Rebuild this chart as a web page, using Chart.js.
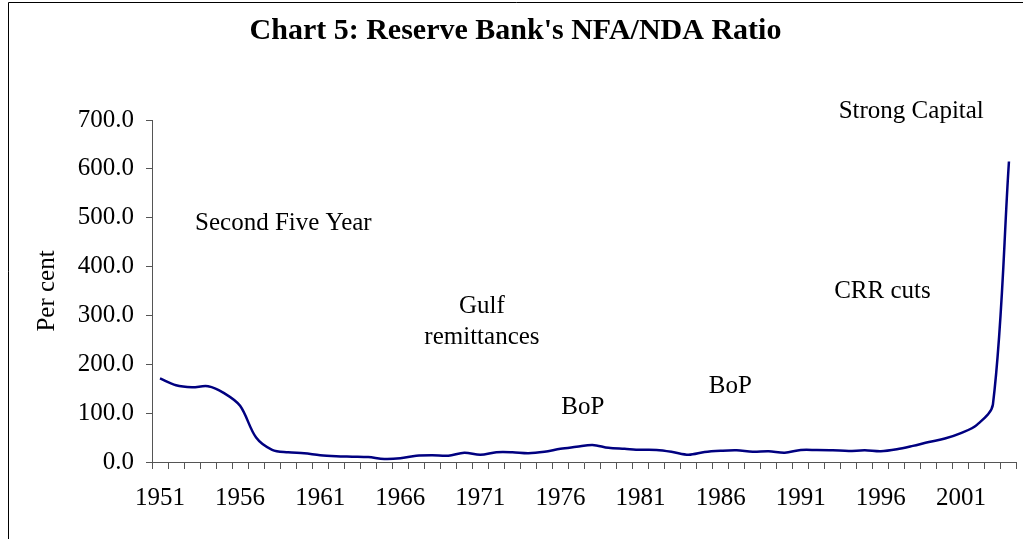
<!DOCTYPE html>
<html>
<head>
<meta charset="utf-8">
<script src="https://cdn.jsdelivr.net/npm/chart.js@4/dist/chart.umd.min.js"></script>
<style>
  html, body { margin: 0; padding: 0; background: #fff; }
  #wrap { width: 1023px; height: 539px; position: relative; }
</style>
</head>
<body>
<div id="wrap"><canvas id="c" width="1023" height="539"></canvas></div>
<script>
const years = [];
for (let y = 1951; y <= 2004; y++) years.push(String(y));

const nfaNdaRatio = [
  171, 157, 153, 155, 141, 115, 50, 25, 20, 18,
  14, 12, 11, 10, 6, 7.5, 13, 14, 13, 19,
  15, 20, 20, 18, 21, 27, 31, 35, 29, 27,
  25, 24.5, 20.5, 15, 20.5, 23, 24, 21, 22, 19,
  24.5, 24.5, 24, 22.5, 24, 22, 26, 33, 41, 48,
  59, 76, 118, 615
];

const yTicks = [0, 100, 200, 300, 400, 500, 600, 700];
const xLabelYears = ['1951','1956','1961','1966','1971','1976','1981','1986','1991','1996','2001'];

const annotationTexts = ['Strong Capital', 'Second Five Year', 'Gulf', 'remittances', 'BoP', 'BoP', 'CRR cuts'];
const annotationAt = [46.9, 7.7, 20.1, 20.1, 26.4, 35.6, 45.1];
const annotationVal = [718, 489, 319, 254, 112.6, 155.5, 350];

const SERIF = '"Liberation Serif", "Times New Roman", serif';

const decor = {
  id: 'decor',
  beforeDraw(chart) {
    const ctx = chart.ctx;
    ctx.save();
    ctx.fillStyle = '#fff';
    ctx.fillRect(0, 0, chart.width, chart.height);
    ctx.strokeStyle = '#000';
    ctx.lineWidth = 1;
    ctx.beginPath();
    ctx.moveTo(8.5, chart.height + 2);
    ctx.lineTo(8.5, 2.5);
    ctx.lineTo(chart.width + 2, 2.5);
    ctx.stroke();
    ctx.restore();
  },
  afterDraw(chart) {
    const ctx = chart.ctx;
    const xs = chart.scales.x, ys = chart.scales.y;
    const area = chart.chartArea;
    ctx.save();
    ctx.fillStyle = '#000';
    ctx.textAlign = 'center';
    ctx.textBaseline = 'middle';
    ctx.font = 'bold 30px ' + SERIF;
    ctx.fillText("Chart 5: Reserve Bank's NFA/NDA Ratio", chart.width / 2 + 4, 31);
    ctx.font = '25px ' + SERIF;
    for (let i = 0; i < annotationTexts.length; i++) {
      ctx.fillText(annotationTexts[i], xs.getPixelForValue(annotationAt[i]), ys.getPixelForValue(annotationVal[i]));
    }
    ctx.translate(47, (area.top + area.bottom) / 2);
    ctx.rotate(-Math.PI / 2);
    ctx.fillText('Per cent', 0, 0);
    ctx.restore();
  }
};

new Chart(document.getElementById('c'), {
  type: 'line',
  data: {
    labels: years,
    datasets: [{
      data: nfaNdaRatio,
      borderColor: '#000080',
      borderWidth: 2.5,
      pointRadius: 0,
      tension: 0.33,
      fill: false
    }]
  },
  options: {
    responsive: false,
    animation: false,
    devicePixelRatio: 1,
    layout: { padding: { top: 120, right: 5, left: 0, bottom: 0 } },
    plugins: { legend: { display: false }, title: { display: false }, tooltip: { enabled: false } },
    scales: {
      x: {
        type: 'category',
        offset: true,
        afterFit(s) { s.height = 77; },
        grid: { offset: true, drawOnChartArea: false, drawTicks: true, tickLength: 7, color: '#555', lineWidth: 1 },
        border: { display: true, color: '#555', width: 1 },
        ticks: {
          autoSkip: false, maxRotation: 0, minRotation: 0, padding: 14,
          color: '#000', font: { family: SERIF, size: 25 },
          callback(v) { const l = this.getLabelForValue(v); return xLabelYears.includes(l) ? l : ''; }
        }
      },
      y: {
        min: 0, max: 700,
        afterFit(s) { s.width = 152; },
        afterBuildTicks(s) { s.ticks = yTicks.map(v => ({ value: v })); },
        grid: { drawOnChartArea: false, drawTicks: true, tickLength: 6, color: '#555' },
        border: { display: true, color: '#555', width: 1 },
        ticks: {
          padding: 12, color: '#000', font: { family: SERIF, size: 25 },
          callback(v) { return Number(v).toFixed(1); }
        }
      }
    }
  },
  plugins: [decor]
});
</script>
</body>
</html>
